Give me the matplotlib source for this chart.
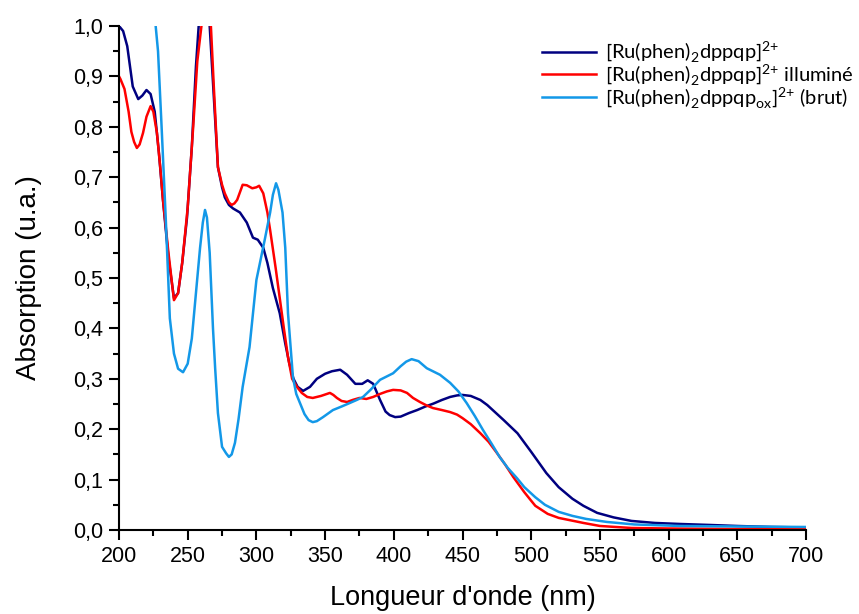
import matplotlib
matplotlib.use("Agg")
import matplotlib.pyplot as plt
from matplotlib.ticker import MultipleLocator, FuncFormatter

# navy : complexe de depart
x_ref = [200, 203, 206, 210, 214, 217, 220, 223, 226, 229, 232, 236, 240, 243, 246, 249.5, 253, 256, 258, 261,
         264, 266, 269, 272, 275, 277, 280, 283, 288, 293, 297.5, 301, 305, 308, 312, 317, 321, 324, 327, 330,
         334, 339, 344, 350, 355, 361, 366, 372, 377, 381, 385, 390, 394, 397, 401, 405, 411, 417, 423, 429,
         435, 441, 446, 450, 456, 463, 468, 472, 480, 490, 500, 511, 520, 530, 538, 548, 560, 573, 590, 608,
         630, 650, 675, 700]
y_ref = [1.0, 0.99, 0.96, 0.88, 0.855, 0.862, 0.873, 0.865, 0.83, 0.75, 0.655, 0.54, 0.46, 0.47, 0.53, 0.62, 0.76, 0.92, 1.0, 1.08,
         1.06, 1.0, 0.86, 0.72, 0.68, 0.66, 0.645, 0.638, 0.63, 0.61, 0.58, 0.576, 0.56, 0.53, 0.48, 0.43, 0.37, 0.33, 0.30, 0.284,
         0.276, 0.284, 0.30, 0.31, 0.315, 0.318, 0.308, 0.29, 0.29, 0.297, 0.29, 0.258, 0.235, 0.228, 0.224, 0.225, 0.232, 0.238, 0.245, 0.251,
         0.258, 0.264, 0.267, 0.268, 0.266, 0.258, 0.248, 0.238, 0.218, 0.192, 0.155, 0.113, 0.085, 0.062, 0.048, 0.034, 0.025, 0.018, 0.014, 0.012,
         0.010, 0.008, 0.006, 0.005]

# rouge : apres illumination
x_ill = [200, 201, 204, 207, 209, 211, 213, 215, 217.5, 220, 223, 225, 227.6, 230, 232, 236, 240, 243, 246, 250,
         254, 257, 260, 263, 266, 269, 272, 275, 277, 280, 282, 284, 286, 288, 290, 293, 297, 300, 302, 305,
         308, 310, 314, 317, 320, 323, 326, 329.5, 333, 337, 341, 347, 353.5, 356, 358.6, 362, 366, 370, 375, 380,
         385, 390, 395, 399.5, 405, 409.6, 414, 419, 424, 428.5, 435, 441, 446, 450, 456, 463, 469, 475, 481, 487,
         495, 500, 503, 512, 520, 538, 550, 573, 600, 650, 700]
y_ill = [0.90, 0.895, 0.875, 0.83, 0.79, 0.77, 0.758, 0.765, 0.788, 0.82, 0.841, 0.83, 0.788, 0.72, 0.655, 0.55, 0.456, 0.47, 0.53, 0.64,
         0.80, 0.93, 1.0, 1.08, 1.05, 0.88, 0.72, 0.685, 0.668, 0.65, 0.645, 0.648, 0.655, 0.67, 0.685, 0.684, 0.678, 0.68, 0.683, 0.668,
         0.63, 0.595, 0.52, 0.46, 0.40, 0.343, 0.30, 0.284, 0.272, 0.264, 0.262, 0.266, 0.272, 0.268, 0.262, 0.256, 0.254, 0.258, 0.262, 0.26,
         0.264, 0.27, 0.275, 0.278, 0.277, 0.272, 0.262, 0.254, 0.247, 0.242, 0.238, 0.234, 0.229, 0.222, 0.21, 0.192, 0.175, 0.153, 0.13, 0.105,
         0.075, 0.058, 0.048, 0.032, 0.024, 0.014, 0.008, 0.004, 0.003, 0.002, 0.002]

# bleu clair : produit oxyde brut
x_ox = [200, 220, 226, 228.4, 231, 234, 237, 240, 243, 246.6, 250, 253, 256, 259, 261, 262.6, 264, 266, 268.4, 270,
        272, 275, 278, 280, 282, 284.4, 287, 290, 295, 300, 306, 310, 312, 314.3, 316, 319, 321, 323, 326.6, 329,
        331.7, 335, 338, 341, 344, 348.5, 355.7, 362, 368, 373, 377.6, 383, 390, 399.5, 405, 409, 413, 418, 424, 433.6,
        441, 447, 453, 459, 465, 471, 477, 483, 489.6, 495, 503, 510, 520, 530, 540, 555, 575, 608, 650, 700]
y_ox = [1.6, 1.3, 1.02, 0.95, 0.80, 0.62, 0.42, 0.35, 0.32, 0.313, 0.33, 0.38, 0.47, 0.56, 0.61, 0.635, 0.62, 0.55, 0.40, 0.32,
        0.232, 0.165, 0.152, 0.145, 0.15, 0.173, 0.22, 0.284, 0.363, 0.496, 0.575, 0.63, 0.665, 0.688, 0.675, 0.63, 0.56, 0.43, 0.303, 0.27,
        0.252, 0.23, 0.218, 0.214, 0.216, 0.224, 0.238, 0.245, 0.252, 0.258, 0.264, 0.278, 0.298, 0.311, 0.325, 0.334, 0.339, 0.335, 0.321, 0.308,
        0.292, 0.275, 0.252, 0.226, 0.198, 0.172, 0.145, 0.123, 0.103, 0.085, 0.065, 0.05, 0.036, 0.028, 0.022, 0.016, 0.011, 0.008, 0.007, 0.006]

labels = [r'[Ru(phen)$_\mathregular{2}$dppqp]$^\mathregular{2{+}}$',
          r'[Ru(phen)$_\mathregular{2}$dppqp]$^\mathregular{2{+}}$ illuminé',
          r'[Ru(phen)$_\mathregular{2}$dppqp$_\mathregular{ox}$]$^\mathregular{2{+}}$ (brut)']

plt.rcParams['font.family'] = ['Liberation Sans', 'DejaVu Sans']

fig = plt.figure(figsize=(8.59, 6.14), dpi=100)
ax = fig.add_axes([119/859, 1 - 530/614, 687/859, 504/614])

ax.plot(x_ref, y_ref, color='#000080', lw=1.8, label=labels[0])
ax.plot(x_ill, y_ill, color='#ff0000', lw=1.8, label=labels[1])
ax.plot(x_ox, y_ox, color='#1398e8', lw=1.8, label=labels[2])

ax.set_xlim(200, 700)
ax.set_ylim(0, 1.0)
ax.xaxis.set_major_locator(MultipleLocator(50))
ax.xaxis.set_minor_locator(MultipleLocator(25))
ax.yaxis.set_major_locator(MultipleLocator(0.1))
ax.yaxis.set_minor_locator(MultipleLocator(0.05))
ax.yaxis.set_major_formatter(FuncFormatter(lambda v, p: '{:.1f}'.format(v).replace('.', ',')))

for s in ['top', 'right']:
    ax.spines[s].set_visible(False)
for s in ['left', 'bottom']:
    ax.spines[s].set_linewidth(1.5)
ax.tick_params(which='major', direction='out', length=7.5, width=1.5, labelsize=15.5, pad=4)
ax.tick_params(which='minor', direction='out', length=4.5, width=1.5)

ax.set_xlabel("Longueur d'onde (nm)", fontsize=19.5, labelpad=13)
ax.set_ylabel('Absorption (u.a.)', fontsize=20, labelpad=22)

ax.legend(loc='upper right', bbox_to_anchor=(1.015, 0.965), bbox_transform=fig.transFigure,
          frameon=False, handlelength=2.7, labelspacing=-0.08, handletextpad=0.45,
          prop={'family': 'Lato', 'size': 14.5})

fig.savefig('out.png', dpi=100)
